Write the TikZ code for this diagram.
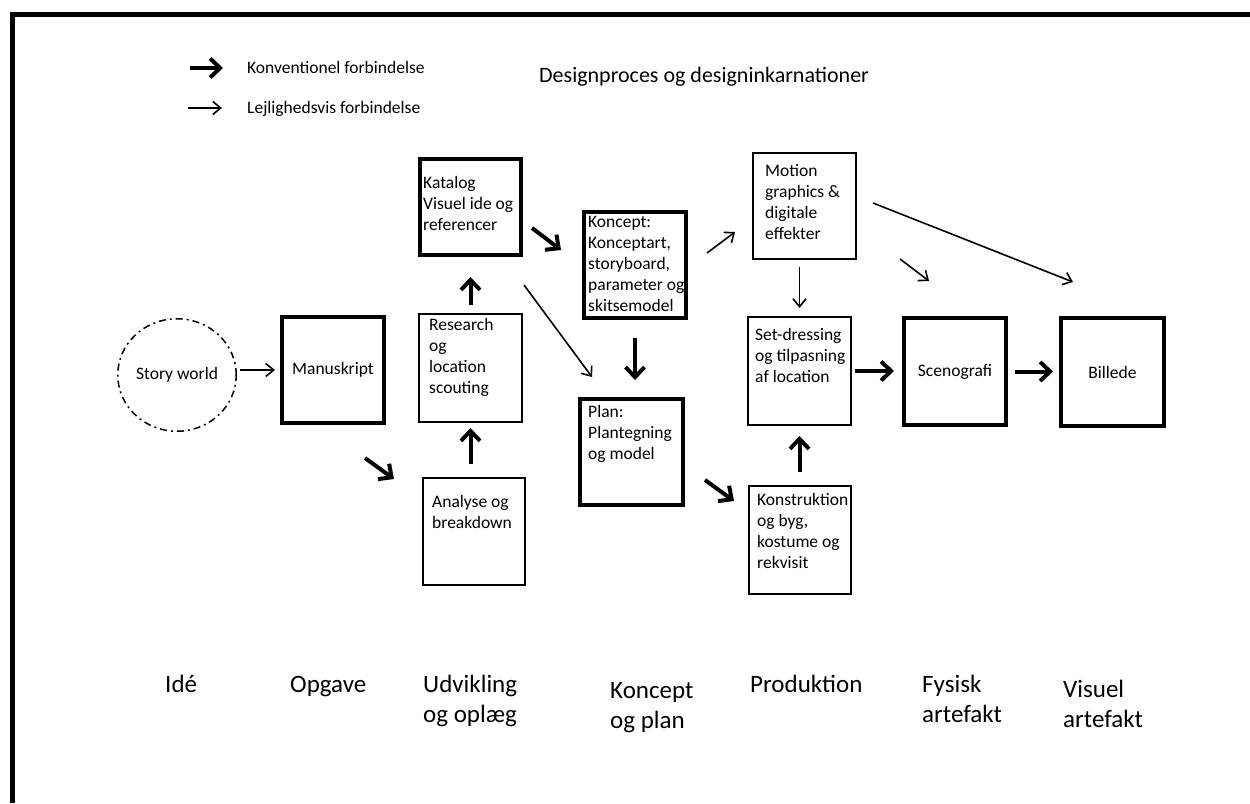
\documentclass[tikz,border=0pt]{standalone}
\usepackage{fontspec}
\setmainfont{Carlito}
\usetikzlibrary{arrows.meta,shapes.geometric}
\newcommand\tlines[1]{\parbox[t]{130pt}{\raggedright #1}}
\begin{document}
\begin{tikzpicture}[x=1pt,y=-1pt,
  thickbox/.style={draw, line width=4pt, inner sep=0pt, font=\fontsize{17.5pt}{21pt}\selectfont},
  thinbox/.style={draw, line width=1.6pt, inner sep=0pt},
  txt/.style={font=\fontsize{17.5pt}{21pt}\selectfont, inner sep=0pt, anchor=base west},
  phase/.style={font=\fontsize{25pt}{30.5pt}\selectfont, inner sep=0pt, anchor=base west},
  conv/.style={line width=4pt, -{Straight Barb[length=10pt,width=19pt]}},
  occ/.style={line width=1.6pt, -{Straight Barb[length=8pt,width=13pt]}},
]
\useasboundingbox (0,0) rectangle (1250,803);
\fill[white] (0,0) rectangle (1250,803);
% frame
\draw[line width=5pt, line join=miter] (12,803) -- (12,14.5) -- (1250,14.5);

% legend and title
\coordinate (lg1s) at (190,68); \coordinate (lg1e) at (223,68);
\coordinate (lg2s) at (188,108); \coordinate (lg2e) at (222,108);
\draw[conv] (lg1s) -- (lg1e);
\draw[occ] (lg2s) -- (lg2e);
\node[txt] (leg1) at (247,73) {Konventionel forbindelse};
\node[txt] (leg2) at (247,113) {Lejlighedsvis forbindelse};
\node[font=\fontsize{22pt}{26pt}\selectfont, inner sep=0pt, anchor=base west] (title) at (539,82) {Designproces og designinkarnationer};

% nodes
\node[ellipse, draw, line width=1.5pt, dash pattern=on 7pt off 4pt on 2pt off 4pt,
      minimum width=118.5pt, minimum height=112.5pt, inner sep=0pt,
      font=\fontsize{17.5pt}{21pt}\selectfont] (story) at (177,375) {Story world};
\node[thickbox, minimum width=102pt, minimum height=106pt] (manu) at (333,370) {Manuskript};
\node[thinbox, minimum width=103.4pt, minimum height=108.4pt] (research) at (470.5,368) {};
\node[thinbox, minimum width=102.4pt, minimum height=107.4pt] (analyse) at (474,531.5) {};
\node[thickbox, minimum width=101pt, minimum height=96pt] (katalog) at (470.5,207) {};
\node[thickbox, minimum width=102pt, minimum height=106pt] (koncept) at (635,265) {};
\node[thickbox, minimum width=103pt, minimum height=106pt] (plan) at (631.5,452) {};
\node[thinbox, minimum width=103.4pt, minimum height=106.4pt] (motion) at (804.5,206) {};
\node[thinbox, minimum width=103.4pt, minimum height=108.4pt] (setdress) at (799.5,371) {};
\node[thinbox, minimum width=102.4pt, minimum height=108.4pt] (konstr) at (800,540) {};
\node[thickbox, minimum width=102pt, minimum height=107pt] (sceno) at (955,371.5) {Scenografi};
\node[thickbox, minimum width=103pt, minimum height=108pt] (billede) at (1112.5,372) {Billede};

% box texts
\node[txt] (researchT) at (429,330) {\tlines{Research\\og\\location\\scouting}};
\node[txt] (analyseT) at (432,507) {\tlines{Analyse og\\breakdown}};
\node[txt] (katalogT) at (423,188) {\tlines{Katalog\\Visuel ide og\\referencer}};
\node[txt] (konceptT) at (588,227) {\tlines{Koncept:\\Konceptart,\\storyboard,\\parameter og\\skitsemodel}};
\node[txt] (planT) at (588,417) {\tlines{Plan:\\Plantegning\\og model}};
\node[txt] (motionT) at (765,176) {\tlines{Motion\\graphics \&\\digitale\\effekter}};
\node[txt] (setdressT) at (755,340) {\tlines{Set-dressing\\og tilpasning\\af location}};
\node[txt] (konstrT) at (757,505) {\tlines{Konstruktion\\og byg,\\kostume og\\rekvisit}};

% free arrow ends
\coordinate (m2as) at (365,458); \coordinate (m2ae) at (394,479);
\coordinate (k2ks) at (532,228); \coordinate (k2ke) at (561,250);
\coordinate (p2ks) at (705,480); \coordinate (p2ke) at (734,501);
\coordinate (r2ps) at (524,285); \coordinate (r2pe) at (592,377);
\coordinate (k2ms) at (707,253); \coordinate (k2me) at (735,232);
\coordinate (m2ss) at (900,259); \coordinate (m2se) at (929,281);
\coordinate (m2bs) at (873,203); \coordinate (m2be) at (1073,282);

% conventional connections
\draw[conv] (m2as) -- (m2ae);
\draw[conv, shorten <=13pt, shorten >=5pt] (research.south |- analyse.north) -- (research.south);
\draw[conv, shorten <=8pt, shorten >=20pt] (katalog.south |- research.north) -- (katalog.south);
\draw[conv] (k2ks) -- (k2ke);
\draw[conv, shorten <=18pt, shorten >=17pt] (koncept.south) -- (koncept.south |- plan.north);
\draw[conv] (p2ks) -- (p2ke);
\draw[conv, shorten <=13pt, shorten >=10pt] (setdress.south |- konstr.north) -- (setdress.south);
\draw[conv, shorten <=3pt, shorten >=8pt] (setdress.east) -- (setdress.east -| sceno.west);
\draw[conv, shorten <=7pt, shorten >=6pt] (sceno.east) -- (sceno.east -| billede.west);

% occasional connections
\draw[occ, shorten <=3pt, shorten >=5pt] (story.east |- manu.east) -- (manu.west);
\draw[occ] (r2ps) -- (r2pe);
\draw[occ] (k2ms) -- (k2me);
\draw[occ, shorten <=7pt, shorten >=8pt] (setdress.north |- motion.south) -- (setdress.north);
\draw[occ] (m2ss) -- (m2se);
\draw[occ] (m2bs) -- (m2be);

% phase labels
\node[phase] (p1) at (165,692) {Idé};
\node[phase] (p2) at (290,692) {Opgave};
\node[phase] (p3) at (423,692) {\tlines{Udvikling\\og oplæg}};
\node[phase] (p4) at (610,698) {\tlines{Koncept\\og plan}};
\node[phase] (p5) at (750,692) {Produktion};
\node[phase] (p6) at (922,692) {\tlines{Fysisk\\artefakt}};
\node[phase] (p7) at (1063,697) {\tlines{Visuel\\artefakt}};
\end{tikzpicture}
\end{document}
